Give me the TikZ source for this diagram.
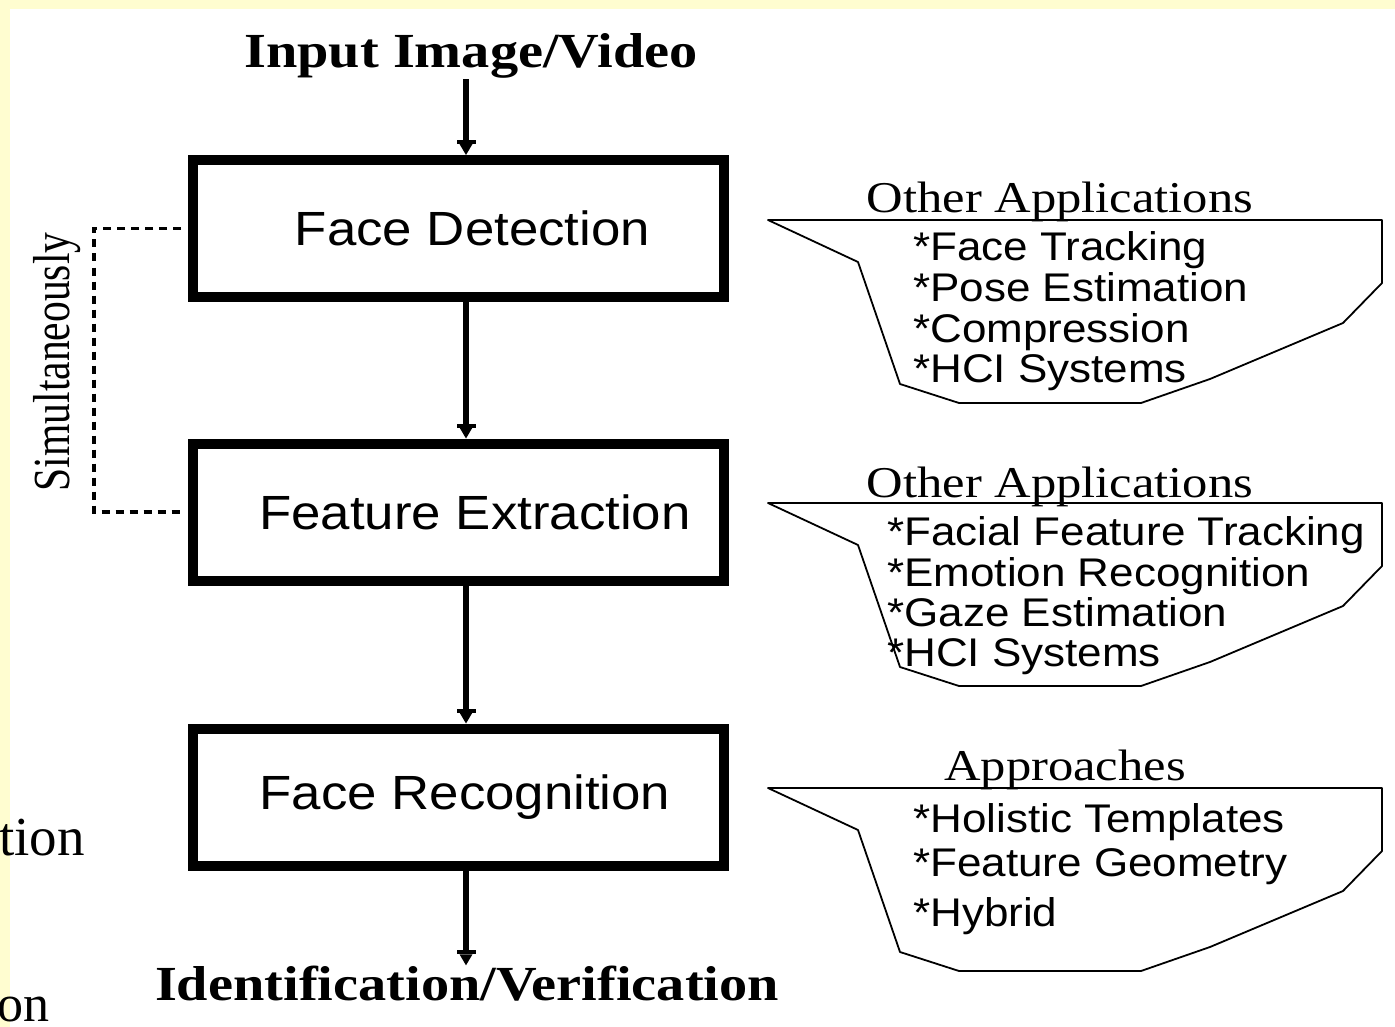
\documentclass[tikz,border=0pt]{standalone}
\usepackage{fontspec}
\setmainfont{Liberation Serif}
\newfontfamily\boxsans[FakeStretch=1.1]{Liberation Sans}
\newfontfamily\wideserif[FakeStretch=1.15]{Liberation Serif}
\newfontfamily\narrowserif[FakeStretch=0.8]{Liberation Serif}
\usetikzlibrary{arrows.meta}
\definecolor{slideyellow}{RGB}{255,253,208}
\begin{document}
\begin{tikzpicture}[x=1pt,y=-1pt,
  stage/.style={draw,line width=10pt,minimum width=531pt,minimum height=137pt,inner sep=0pt,
    font=\boxsans\fontsize{48}{58}\selectfont},
  flow/.style={line width=6pt,-{Rectangle[length=4pt,width=19pt,line width=0pt,sep=0pt]Triangle[length=11pt,width=13pt,line width=0pt]}},
  title/.style={inner sep=0pt,anchor=base,font=\wideserif\bfseries\fontsize{49}{59}\selectfont},
  head/.style={inner sep=0pt,anchor=base,font=\wideserif\fontsize{44}{52}\selectfont},
  item/.style={inner sep=0pt,anchor=base west,font=\boxsans\fontsize{40}{48}\selectfont},
  frag/.style={inner sep=0pt,anchor=base east,font=\fontsize{55}{60}\selectfont},
  simline/.style={line width=3.5pt,dash pattern=on 8pt off 6pt},
  bubble/.style={draw,line width=1.8pt,line join=round}]
\useasboundingbox (0,0) rectangle (1395,1027);
\clip (0,0) rectangle (1395,1027);
\fill[slideyellow] (0,0) rectangle (1395,1027);
\fill[white] (10,9) rectangle (1395,1027);

% background slide fragments
\node[frag] (t1) at (85,855) {tion};
\node[frag,font=\fontsize{52}{58}\selectfont] (t2) at (50,1021) {on};

\coordinate (ax) at (466,0);
\coordinate (dl) at (94,0);

\node[title] (in) at (471,68) {Input Image/Video};
\node[stage] (fd) at (458.5,228.5) {\kern28pt Face Detection};
\node[stage] (fe) at (458.5,512) {\kern33pt Feature Extraction};
\node[stage] (fr) at (458.5,797) {\kern13pt Face Recognition};
\node[title] (out) at (467,1000) {Identification/Verification};

\draw[flow] (in.south -| ax) -- (fd.north -| ax);
\draw[flow] (fd.south -| ax) -- (fe.north -| ax);
\draw[flow] (fe.south -| ax) -- (fr.north -| ax);
\draw[flow] (fr.south -| ax) -- (out.north -| ax);

\draw[simline] ([xshift=-7pt]fd.west) -- (fd.west -| dl) -- (fe.west -| dl) -- ([xshift=-7pt]fe.west);
\node[rotate=90,inner sep=0pt,font=\narrowserif\fontsize{52}{60}\selectfont] (sim) at (57,362) {Simultaneously};

\foreach \dy in {0,283,568}{
  \begin{scope}[shift={(0,\dy)}]
    \draw[bubble] (768,220) -- (1382,220) -- (1382,283) -- (1343,323) -- (1210,379)
      -- (1141,403) -- (959,403) -- (900,384) -- (858,262) -- cycle;
  \end{scope}
}

\node[head] (h1) at (1060,213) {Other Applications};
\node[item] (a1) at (913,261) {*Face Tracking};
\node[item] (a2) at (913,301) {*Pose Estimation};
\node[item] (a3) at (913,342) {*Compression};
\node[item] (a4) at (913,382) {*HCI Systems};

\node[head] (h2) at (1060,497) {Other Applications};
\node[item] (b1) at (887,545) {*Facial Feature Tracking};
\node[item] (b2) at (887,586) {*Emotion Recognition};
\node[item] (b3) at (887,626) {*Gaze Estimation};
\node[item] (b4) at (887,666) {*HCI Systems};

\node[head] (h3) at (1065,780) {Approaches};
\node[item] (c1) at (913,832) {*Holistic Templates};
\node[item] (c2) at (913,876) {*Feature Geometry};
\node[item] (c3) at (913,926) {*Hybrid};
\end{tikzpicture}
\end{document}
